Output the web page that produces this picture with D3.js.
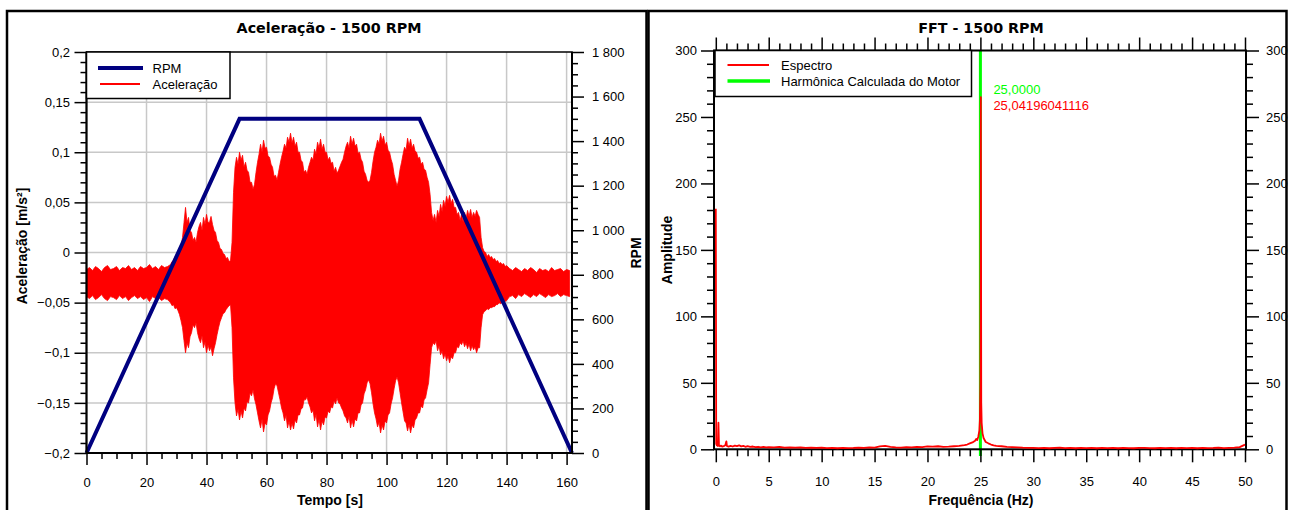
<!DOCTYPE html>
<html><head><meta charset="utf-8">
<script src="https://cdn.jsdelivr.net/npm/d3@7"></script>
<style>
body{margin:0;background:#fff}
svg{display:block;background:#fff}
text{font-family:"Liberation Sans",Arial,sans-serif;font-size:13px;fill:#000}
text.title{font-family:"DejaVu Sans",Verdana,sans-serif;font-weight:bold;font-size:14.3px}
text.axtitle{font-family:"Liberation Sans",Arial,sans-serif;font-weight:bold;font-size:14px}
</style></head><body>
<svg id="chart" width="1292" height="510"></svg>
<script>
// ---- Acceleration run: sample times (s) — 1 s steps while quiet, 0.5 s during the run-up
const accTime = [...d3.range(0, 28), ...d3.range(28, 140, 0.5), ...d3.range(140, 162)];
// upper envelope of the signal (m/s²)
const accHi = [
 -0.017,-0.015,-0.018,-0.014,-0.016,-0.019,-0.015,-0.013,-0.017,-0.016,
 -0.014,-0.018,-0.015,-0.016,-0.013,-0.017,-0.015,-0.018,-0.014,-0.016,
 -0.015,-0.012,-0.016,-0.014,-0.017,-0.013,-0.015,-0.014,
 -0.012,-0.009,-0.008,-0.004,-0.005,-0.002, 0.000, 0.006, 0.015, 0.030,
  0.045, 0.030, 0.035, 0.022, 0.020, 0.012, 0.015, 0.010, 0.020, 0.026,
  0.030, 0.022, 0.035, 0.028, 0.038, 0.030, 0.030, 0.036, 0.028, 0.022,
  0.020, 0.012, 0.010, 0.004, 0.003,-0.001,-0.002,-0.006,-0.005,-0.009,
 -0.008, 0.010, 0.060, 0.085, 0.095, 0.088, 0.100, 0.092, 0.097, 0.085,
  0.090, 0.082, 0.080, 0.070, 0.070, 0.063, 0.068, 0.080, 0.090, 0.098,
  0.108, 0.100, 0.112, 0.104, 0.105, 0.096, 0.095, 0.088, 0.085, 0.076,
  0.077, 0.072, 0.080, 0.088, 0.095, 0.101, 0.108, 0.104, 0.115, 0.110,
  0.119, 0.109, 0.115, 0.106, 0.110, 0.100, 0.100, 0.092, 0.090, 0.080,
  0.082, 0.078, 0.085, 0.090, 0.095, 0.092, 0.103, 0.098, 0.110, 0.104,
  0.113, 0.103, 0.108, 0.100, 0.100, 0.092, 0.095, 0.089, 0.090, 0.081,
  0.085, 0.079, 0.082, 0.086, 0.090, 0.093, 0.100, 0.106, 0.110, 0.104,
  0.116, 0.108, 0.114, 0.106, 0.108, 0.099, 0.100, 0.093, 0.090, 0.081,
  0.078, 0.072, 0.070, 0.072, 0.080, 0.091, 0.100, 0.105, 0.112, 0.108,
  0.119, 0.111, 0.116, 0.107, 0.110, 0.102, 0.100, 0.093, 0.088, 0.078,
  0.072, 0.066, 0.072, 0.083, 0.090, 0.098, 0.105, 0.102, 0.114, 0.106,
  0.113, 0.104, 0.108, 0.101, 0.100, 0.094, 0.095, 0.088, 0.090, 0.083,
  0.082, 0.075, 0.070, 0.058, 0.040, 0.032, 0.038, 0.030, 0.042, 0.036,
  0.048, 0.041, 0.052, 0.046, 0.056, 0.050, 0.057, 0.049, 0.053, 0.045,
  0.045, 0.038, 0.040, 0.032, 0.038, 0.031, 0.040, 0.034, 0.042, 0.036,
  0.043, 0.035, 0.040, 0.036, 0.042, 0.038, 0.035, 0.015, 0.005, 0.001,
  0.000,-0.004,-0.002,-0.005,-0.004,-0.007,-0.006,-0.009,-0.008,-0.011,
 -0.010,-0.012,-0.011,-0.014,
 -0.013,-0.016,-0.018,-0.015,-0.017,-0.019,-0.016,-0.018,-0.015,-0.017,
 -0.020,-0.016,-0.018,-0.017,-0.019,-0.015,-0.018,-0.017,-0.016,-0.019,
 -0.017,-0.018
];
// lower envelope of the signal (m/s²)
const accLo = [
 -0.044,-0.046,-0.043,-0.047,-0.045,-0.042,-0.046,-0.048,-0.044,-0.045,
 -0.047,-0.043,-0.046,-0.044,-0.048,-0.045,-0.043,-0.046,-0.044,-0.047,
 -0.045,-0.049,-0.044,-0.046,-0.045,-0.048,-0.046,-0.047,
 -0.050,-0.053,-0.052,-0.056,-0.055,-0.058,-0.062,-0.068,-0.075,-0.088,
 -0.100,-0.090,-0.095,-0.084,-0.080,-0.072,-0.075,-0.070,-0.080,-0.086,
 -0.090,-0.083,-0.095,-0.089,-0.100,-0.092,-0.098,-0.094,-0.103,-0.096,
 -0.090,-0.082,-0.075,-0.069,-0.065,-0.061,-0.060,-0.057,-0.055,-0.053,
 -0.052,-0.075,-0.125,-0.150,-0.163,-0.156,-0.167,-0.158,-0.165,-0.155,
 -0.158,-0.149,-0.150,-0.140,-0.143,-0.137,-0.146,-0.152,-0.160,-0.168,
 -0.175,-0.166,-0.179,-0.170,-0.172,-0.162,-0.158,-0.150,-0.145,-0.136,
 -0.131,-0.133,-0.140,-0.147,-0.155,-0.160,-0.168,-0.162,-0.175,-0.168,
 -0.177,-0.170,-0.176,-0.167,-0.170,-0.162,-0.162,-0.156,-0.155,-0.147,
 -0.147,-0.144,-0.150,-0.154,-0.160,-0.157,-0.168,-0.161,-0.174,-0.166,
 -0.177,-0.168,-0.172,-0.164,-0.165,-0.158,-0.160,-0.154,-0.155,-0.148,
 -0.151,-0.145,-0.150,-0.151,-0.155,-0.158,-0.163,-0.165,-0.170,-0.163,
 -0.175,-0.167,-0.174,-0.166,-0.168,-0.160,-0.160,-0.152,-0.150,-0.141,
 -0.137,-0.130,-0.127,-0.131,-0.140,-0.151,-0.160,-0.166,-0.174,-0.169,
 -0.180,-0.172,-0.177,-0.168,-0.170,-0.162,-0.160,-0.151,-0.145,-0.136,
 -0.128,-0.124,-0.130,-0.140,-0.150,-0.159,-0.168,-0.170,-0.178,-0.171,
 -0.180,-0.172,-0.175,-0.167,-0.165,-0.160,-0.160,-0.153,-0.155,-0.147,
 -0.145,-0.137,-0.130,-0.112,-0.095,-0.090,-0.092,-0.088,-0.098,-0.093,
 -0.102,-0.098,-0.106,-0.101,-0.108,-0.103,-0.110,-0.104,-0.106,-0.100,
 -0.100,-0.094,-0.095,-0.090,-0.092,-0.088,-0.094,-0.090,-0.096,-0.091,
 -0.098,-0.093,-0.097,-0.094,-0.100,-0.095,-0.095,-0.075,-0.062,-0.059,
 -0.058,-0.056,-0.057,-0.055,-0.055,-0.054,-0.054,-0.052,-0.052,-0.050,
 -0.051,-0.050,-0.050,-0.049,
 -0.048,-0.044,-0.043,-0.046,-0.042,-0.044,-0.041,-0.043,-0.045,-0.042,
 -0.044,-0.041,-0.043,-0.045,-0.042,-0.044,-0.043,-0.041,-0.044,-0.042,
 -0.043,-0.044
];
// motor speed profile
const rpmTime  = [0, 51, 111, 161.8];
const rpmValue = [0, 1500, 1500, 0];

// ---- Spectrum
const specFreq = [
 0,0.04,0.1,0.2,0.25,0.3,0.4,0.5,0.6,0.75,0.9,1.0,1.05,1.2,1.4,1.6,1.8,2.0,2.2,2.4,2.6,2.8,
 3.0,3.25,3.5,3.75,4.0,4.25,4.5,4.75,5.0,5.5,6.0,6.5,7.0,7.5,8.0,8.5,9.0,9.5,10,10.5,11,11.5,
 12,12.5,13,13.5,14,14.5,15,15.5,16,16.5,17,17.5,18,18.5,19,19.5,20,20.5,21,21.5,22,22.5,23,
 23.5,23.75,24,24.25,24.5,24.6,24.7,24.8,24.9,24.95,25.0,25.04196041116,25.08,25.12,25.2,25.3,
 25.4,25.5,25.75,26,26.25,26.5,27,27.5,28,28.5,29,29.5,30,
 30.5,31,31.5,32,32.5,33,33.5,34,34.5,35,35.5,36,36.5,37,37.5,38,38.5,39,39.5,40,
 40.5,41,41.5,42,42.5,43,43.5,44,44.5,45,45.5,46,46.5,47,47.5,48,48.5,49,49.5,50
];
const specAmp = [
 181,4,3,2.5,20,3,2.2,2.8,2,2.4,3,6,2.5,2,2.6,2.1,2.8,2.4,3,2.2,2.6,1.9,
 2.3,1.8,2.1,1.6,1.9,1.5,1.8,1.4,1.7,1.4,1.9,1.3,1.5,1.2,1.4,1.0,1.3,1.0,1.2,0.9,1.1,0.8,
 1.1,0.9,1.0,1.2,1.0,1.4,1.3,2.2,2.6,1.8,1.5,1.3,1.6,1.4,1.8,1.6,2.2,2.0,2.3,1.8,2.0,2.3,2.6,
 3.2,3.6,4.4,5.2,6.5,7.8,7.0,9.5,14,22,50,265,35,20,12,8.5,
 7,5.5,4.5,3.6,3.0,2.6,2.3,1.8,1.6,1.4,1.2,1.1,1.0,
 0.9,1.1,0.8,1.0,1.2,0.9,1.0,0.8,1.1,0.9,1.0,0.8,1.0,0.9,1.1,0.8,1.0,0.9,0.8,1.0,
 1.1,0.9,0.8,1.0,0.9,1.1,0.8,1.0,0.9,1.0,0.8,1.1,0.9,1.0,1.2,0.9,1.1,1.3,1.6,3.5
];
const harmonicFreq = 25.0;
const peakFreq = 25.04196041116;

// ---- Tick values
const timeTicks = [0,20,40,60,80,100,120,140,160];
const accTicks  = [-0.2,-0.15,-0.1,-0.05,0,0.05,0.1,0.15,0.2];
const rpmTicks  = [0,200,400,600,800,1000,1200,1400,1600,1800];
const freqTicks = [0,5,10,15,20,25,30,35,40,45,50];
const ampTicks  = [0,50,100,150,200,250,300];

const loc = d3.formatLocale({decimal:",", thousands:"\u00a0", grouping:[3], currency:["",""], minus:"\u2212"});
const fmtDec = loc.format(".2~f");
const fmtInt = loc.format(",d");

const svg = d3.select("#chart");
const RED = "#ff0000", NAVY = "#000080", GREEN = "#00ff00", GRID = "#c8c8c8";

function styleAxis(g, tickW){
  g.attr("font-size", null).attr("font-family", null);
  g.select(".domain").remove();
  g.selectAll(".tick line").attr("stroke", "#000").attr("stroke-width", tickW);
}

// ================= Left chart: acceleration and RPM vs time =================
const L = {x0: 86.5, x1: 572, y0: 453, y1: 52};
const xT = d3.scaleLinear().domain([0, 161.8]).range([L.x0, L.x1]);
const yA = d3.scaleLinear().domain([-0.2, 0.2]).range([L.y0, L.y1]);
const yR = d3.scaleLinear().domain([0, 1800]).range([L.y0, L.y1]);

const left = svg.append("g");
// grid
left.append("g").selectAll("line").data(timeTicks.filter(d => d > 0)).join("line")
  .attr("x1", d => xT(d)).attr("x2", d => xT(d)).attr("y1", L.y1).attr("y2", L.y0)
  .attr("stroke", GRID).attr("stroke-width", 1.5);
left.append("g").selectAll("line").data(accTicks.filter(d => d > -0.2 && d < 0.2)).join("line")
  .attr("x1", L.x0).attr("x2", L.x1).attr("y1", d => yA(d)).attr("y2", d => yA(d))
  .attr("stroke", GRID).attr("stroke-width", 1.5);

// acceleration signal band
const accArea = d3.area().x((d, i) => xT(accTime[i])).y0((d, i) => yA(accLo[i])).y1(d => yA(d));
left.append("path").datum(accHi).attr("d", accArea).attr("fill", RED)
  .attr("stroke", RED).attr("stroke-width", 0.8);

// RPM profile
left.append("path").datum(rpmTime.map((t, i) => [t, rpmValue[i]]))
  .attr("d", d3.line().x(d => xT(d[0])).y(d => yR(d[1])))
  .attr("fill", "none").attr("stroke", NAVY).attr("stroke-width", 4).attr("stroke-linejoin", "miter");

// plot frame
left.append("rect").attr("x", L.x0).attr("y", L.y1).attr("width", L.x1 - L.x0).attr("height", L.y0 - L.y1)
  .attr("fill", "none").attr("stroke", "#000").attr("stroke-width", 1.5);

// axes
const tMinor = d3.range(0, 161, 5).filter(d => d % 20 !== 0);
left.append("g").attr("transform", `translate(0,${L.y0})`)
  .call(d3.axisBottom(xT).tickValues(tMinor).tickSize(6).tickFormat(""))
  .call(g => styleAxis(g, 1.5));
left.append("g").attr("transform", `translate(0,${L.y0})`)
  .call(d3.axisBottom(xT).tickValues(timeTicks).tickSize(12).tickPadding(13).tickFormat(fmtInt))
  .call(g => styleAxis(g, 1.5));

const aMinor = d3.range(-20, 21).map(d => d / 100).filter(d => Math.round(d * 100) % 5 !== 0);
left.append("g").attr("transform", `translate(${L.x0},0)`)
  .call(d3.axisLeft(yA).tickValues(aMinor).tickSize(6).tickFormat(""))
  .call(g => styleAxis(g, 1.5));
left.append("g").attr("transform", `translate(${L.x0},0)`)
  .call(d3.axisLeft(yA).tickValues(accTicks).tickSize(12).tickPadding(4.5).tickFormat(fmtDec))
  .call(g => styleAxis(g, 1.5));

const rMinor = d3.range(0, 1801, 50).filter(d => d % 200 !== 0);
left.append("g").attr("transform", `translate(${L.x1},0)`)
  .call(d3.axisRight(yR).tickValues(rMinor).tickSize(6).tickFormat(""))
  .call(g => styleAxis(g, 1.5));
left.append("g").attr("transform", `translate(${L.x1},0)`)
  .call(d3.axisRight(yR).tickValues(rpmTicks).tickSize(12).tickPadding(8).tickFormat(fmtInt))
  .call(g => styleAxis(g, 1.5));

// axis lines
left.append("line").attr("x1", L.x0).attr("x2", L.x1).attr("y1", L.y0).attr("y2", L.y0).attr("stroke", "#000").attr("stroke-width", 2);
left.append("line").attr("x1", L.x0).attr("x2", L.x0).attr("y1", L.y1).attr("y2", L.y0).attr("stroke", "#000").attr("stroke-width", 2);
left.append("line").attr("x1", L.x1).attr("x2", L.x1).attr("y1", L.y1).attr("y2", L.y0).attr("stroke", "#000").attr("stroke-width", 2);

// titles
left.append("text").attr("class", "title").attr("x", 329).attr("y", 33).attr("text-anchor", "middle").text("Aceleração - 1500 RPM");
left.append("text").attr("class", "axtitle").attr("x", 330).attr("y", 505).attr("text-anchor", "middle").text("Tempo [s]");
left.append("text").attr("class", "axtitle").attr("transform", "translate(27,246) rotate(-90)").attr("text-anchor", "middle").text("Aceleração [m/s²]");
left.append("text").attr("class", "axtitle").attr("transform", "translate(640.5,253) rotate(-90)").attr("text-anchor", "middle").text("RPM");

// legend
const lg = left.append("g");
lg.append("rect").attr("x", L.x0).attr("y", L.y1).attr("width", 143.5).attr("height", 46.5)
  .attr("fill", "#fff").attr("stroke", "#000").attr("stroke-width", 1.5);
lg.append("line").attr("x1", 98).attr("x2", 143).attr("y1", 68).attr("y2", 68).attr("stroke", NAVY).attr("stroke-width", 4);
lg.append("line").attr("x1", 100).attr("x2", 140).attr("y1", 84).attr("y2", 84).attr("stroke", RED).attr("stroke-width", 2);
lg.append("text").attr("x", 152.5).attr("y", 68).attr("dy", "0.36em").text("RPM");
lg.append("text").attr("x", 152.5).attr("y", 84).attr("dy", "0.36em").text("Aceleração");

// ================= Right chart: FFT =================
const R = {x0: 714, x1: 1246, y0: 449.3, y1: 50.5};
const xF = d3.scaleLinear().domain([0, 50]).range([715.8, 1245]);
const yF = d3.scaleLinear().domain([0, 300]).range([R.y0, R.y1]);
const right = svg.append("g");

// harmonic marker
right.append("line").attr("x1", xF(harmonicFreq)).attr("x2", xF(harmonicFreq))
  .attr("y1", yF(-5)).attr("y2", yF(300)).attr("stroke", GREEN).attr("stroke-width", 3);

// axes
const fMinor = d3.range(0, 51, 1).filter(d => d % 5 !== 0);
for (const [axis, y] of [[d3.axisBottom, R.y0], [d3.axisTop, R.y1]]) {
  right.append("g").attr("transform", `translate(0,${y})`)
    .call(axis(xF).tickValues(fMinor).tickSize(7).tickFormat(""))
    .call(g => styleAxis(g, 1.5));
  right.append("g").attr("transform", `translate(0,${y})`)
    .call(axis(xF).tickValues(freqTicks).tickSize(13).tickPadding(14.5).tickFormat(axis === d3.axisBottom ? fmtInt : ""))
    .call(g => styleAxis(g, 1.5));
}
const ampMinor = d3.range(0, 301, 10).filter(d => d % 50 !== 0);
right.append("g").attr("transform", `translate(${R.x0},0)`)
  .call(d3.axisLeft(yF).tickValues(ampMinor).tickSize(7).tickFormat(""))
  .call(g => styleAxis(g, 1.5));
right.append("g").attr("transform", `translate(${R.x0},0)`)
  .call(d3.axisLeft(yF).tickValues(ampTicks).tickSize(13).tickPadding(4).tickFormat(fmtInt))
  .call(g => styleAxis(g, 1.5));
right.append("g").attr("transform", `translate(${R.x1},0)`)
  .call(d3.axisRight(yF).tickValues(ampMinor).tickSize(7).tickFormat(""))
  .call(g => styleAxis(g, 1.5));
right.append("g").attr("transform", `translate(${R.x1},0)`)
  .call(d3.axisRight(yF).tickValues(ampTicks).tickSize(13).tickPadding(7).tickFormat(fmtInt))
  .call(g => styleAxis(g, 1.5));

right.append("rect").attr("x", R.x0).attr("y", R.y1).attr("width", R.x1 - R.x0).attr("height", R.y0 - R.y1)
  .attr("fill", "none").attr("stroke", "#000").attr("stroke-width", 2);

// spectrum, drawn over the axis frame so the DC spike stays visible
right.append("path").datum(specFreq.map((f, i) => [f, specAmp[i]]))
  .attr("d", d3.line().x(d => xF(d[0])).y(d => yF(d[1])))
  .attr("fill", "none").attr("stroke", RED).attr("stroke-width", 1.8).attr("stroke-linejoin", "round");

// peak annotations
const fmtFreq4 = loc.format(".4f");
right.append("text").attr("x", xF(harmonicFreq) + 13).attr("y", 89).attr("dy", "0.36em")
  .style("fill", GREEN).text(fmtFreq4(harmonicFreq));
right.append("text").attr("x", xF(harmonicFreq) + 13).attr("y", 105).attr("dy", "0.36em")
  .style("fill", RED).text(String(peakFreq).replace(".", ","));

// titles
right.append("text").attr("class", "title").attr("x", 981).attr("y", 33).attr("text-anchor", "middle").text("FFT - 1500 RPM");
right.append("text").attr("class", "axtitle").attr("x", 981).attr("y", 505).attr("text-anchor", "middle").text("Frequência (Hz)");
right.append("text").attr("class", "axtitle").attr("transform", "translate(671.5,250) rotate(-90)").attr("text-anchor", "middle").text("Amplitude");

// legend
const rg = right.append("g");
rg.append("rect").attr("x", R.x0 + 1).attr("y", R.y1).attr("width", 256.5).attr("height", 46)
  .attr("fill", "#fff").attr("stroke", "#000").attr("stroke-width", 1.5);
rg.append("line").attr("x1", 727.5).attr("x2", 769).attr("y1", 65).attr("y2", 65).attr("stroke", RED).attr("stroke-width", 2);
rg.append("line").attr("x1", 727.5).attr("x2", 770).attr("y1", 81).attr("y2", 81).attr("stroke", GREEN).attr("stroke-width", 3.5);
rg.append("text").attr("x", 781).attr("y", 65).attr("dy", "0.36em").text("Espectro");
rg.append("text").attr("x", 781).attr("y", 81).attr("dy", "0.36em").text("Harmônica Calculada do Motor");

// ================= Panel frames =================
svg.append("rect").attr("x", 7).attr("y", 11).attr("width", 639.5).attr("height", 520)
  .attr("fill", "none").attr("stroke", "#000").attr("stroke-width", 2.5);
svg.append("rect").attr("x", 648.5).attr("y", 11).attr("width", 638).attr("height", 520)
  .attr("fill", "none").attr("stroke", "#000").attr("stroke-width", 2.5);
</script></body></html>
